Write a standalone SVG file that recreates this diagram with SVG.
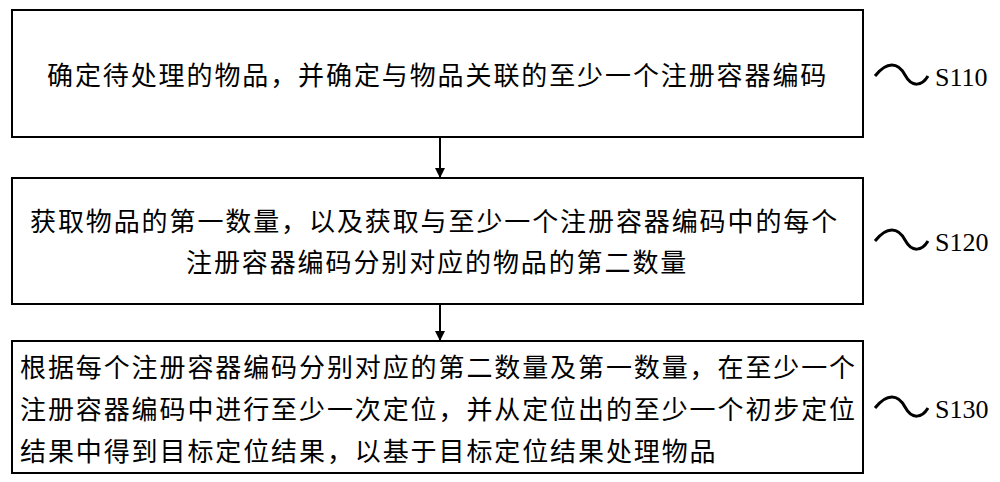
<svg xmlns="http://www.w3.org/2000/svg" width="1000" height="482" viewBox="0 0 1000 482">
<style>
.box{fill:#fff;stroke:#000;stroke-width:2}
.t{font-family:"Noto Sans CJK SC",sans-serif;font-size:26px;letter-spacing:1.9px;fill:#000}
.s{font-family:"Liberation Serif",serif;font-size:26px;fill:#000}
.c{fill:none;stroke:#000;stroke-width:2}
.w{fill:none;stroke:#000;stroke-width:3}
</style>
<defs><marker id="a" markerWidth="10" markerHeight="10" refX="9" refY="5" orient="auto" markerUnits="userSpaceOnUse"><path d="M0,0 L10,5 L0,10 z" fill="#000"/></marker></defs>
<rect width="1000" height="482" fill="#fff"/>
<g id="n1"><rect class="box" x="12" y="10" width="851" height="127"/>
<text class="t" x="47" y="85">确定待处理的物品，并确定与物品关联的至少一个注册容器编码</text>
<path class="w" d="M875,76 C887,61 898,62 905,75 C912,88 922,86 928,76"/><text class="s" x="935" y="86">S110</text></g>
<g id="n2"><rect class="box" x="12" y="178" width="851" height="126"/>
<text class="t" x="30" y="231">获取物品的第一数量，以及获取与至少一个注册容器编码中的每个</text>
<text class="t" x="186" y="272">注册容器编码分别对应的物品的第二数量</text>
<path class="w" d="M875,241 C887,226 898,227 905,240 C912,253 922,251 928,241"/><text class="s" x="935" y="251">S120</text></g>
<g id="n3"><rect class="box" x="12" y="341" width="851" height="132"/>
<text class="t" x="20" y="377">根据每个注册容器编码分别对应的第二数量及第一数量，在至少一个</text>
<text class="t" x="20" y="419">注册容器编码中进行至少一次定位，并从定位出的至少一个初步定位</text>
<text class="t" x="20" y="461">结果中得到目标定位结果，以基于目标定位结果处理物品</text>
<path class="w" d="M875,408 C887,393 898,394 905,407 C912,420 922,418 928,408"/><text class="s" x="935" y="418">S130</text></g>
<g id="connectors">
<line class="c" x1="440" y1="137" x2="440" y2="177" marker-end="url(#a)"/>
<line class="c" x1="440" y1="304" x2="440" y2="340" marker-end="url(#a)"/>
</g>
</svg>
